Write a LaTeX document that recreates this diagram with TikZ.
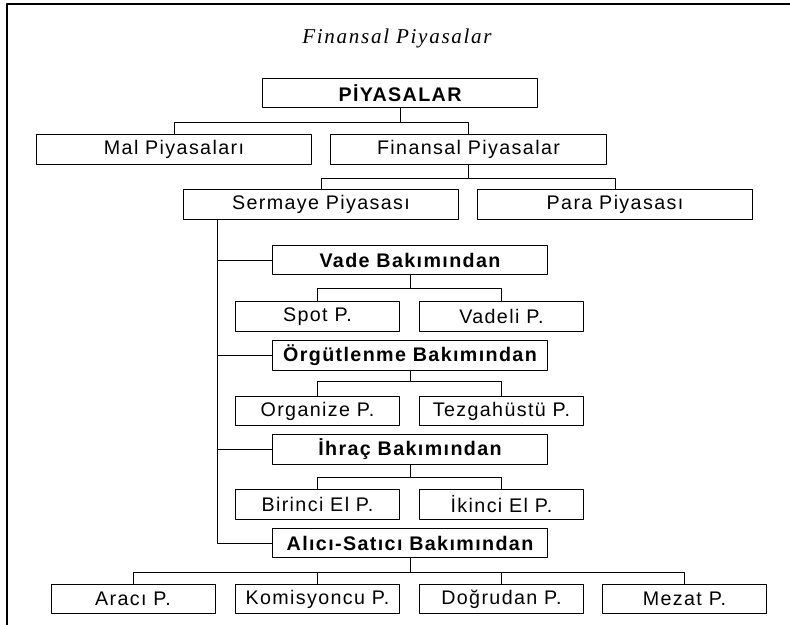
\documentclass[tikz,border=0pt]{standalone}
\usepackage{fontspec}
\setmainfont{Liberation Sans}
\newfontfamily\boxfont[LetterSpace=7]{Liberation Sans}
\newfontfamily\titlefont[LetterSpace=8]{Liberation Serif}
\usetikzlibrary{calc}

\tikzset{
  box/.style={draw, line width=0.6pt, rectangle, inner sep=0pt, minimum height=0.73cm, font=\boxfont\fontsize{14}{16}\selectfont},
  wide/.style={box, minimum width=6.88cm},
  narrow/.style={box, minimum width=4.1cm},
  head/.style={wide, font=\boxfont\fontsize{14}{16}\selectfont\bfseries},
  link/.style={line width=0.6pt}
}

\begin{document}
\begin{tikzpicture}[x=0.025cm,y=-0.025cm,line cap=round,line join=round]
        \useasboundingbox (0,0) rectangle (790,625);
        \draw[line width=1.5pt] (7,625) -- (7,4) -- (790,4);

        \node[font=\titlefont\itshape\fontsize{15}{17}\selectfont] (title) at (397,38) {Finansal Piyasalar};

        \node[head] (piy) at (400,93) {PİYASALAR};
        \node[wide] (mal) at (174,149.5) {Mal Piyasaları};
        \node[wide] (fin) at (468.5,149.5) {Finansal Piyasalar};
        \node[wide] (ser) at (321,204.5) {Sermaye Piyasası};
        \node[wide] (para) at (615,204.5) {Para Piyasası};

        \node[head] (vade) at (410,260) {Vade Bakımından};
        \node[narrow] (spot) at (317.5,316.5) {Spot P.};
        \node[narrow] (vadeli) at (501.5,316.5) {Vadeli P.};

        \node[head] (org) at (410,355.5) {Örgütlenme Bakımından};
        \node[narrow] (organize) at (317.5,411) {Organize P.};
        \node[narrow] (tezgah) at (501.5,411) {Tezgahüstü P.};

        \node[head] (ihrac) at (410,449.5) {İhraç Bakımından};
        \node[narrow] (birinci) at (317.5,504.5) {Birinci El P.};
        \node[narrow] (ikinci) at (501.5,504.5) {İkinci El P.};

        \node[head] (alici) at (410,543) {Alıcı-Satıcı Bakımından};
        \node[narrow] (araci) at (133,599) {Aracı P.};
        \node[narrow] (komis) at (317.5,599) {Komisyoncu P.};
        \node[narrow] (dog) at (501.5,599) {Doğrudan P.};
        \node[narrow] (mezat) at (684.5,599) {Mezat P.};

        % parent -> children
        \foreach \p/\c/\d in {piy/mal/14, piy/fin/14, fin/ser/14, fin/para/14,
                vade/spot/13, vade/vadeli/13, org/organize/11, org/tezgah/11,
                ihrac/birinci/13, ihrac/ikinci/13, alici/araci/14, alici/komis/14,
                alici/dog/14, alici/mezat/14}
            \draw[link] (\p.south) -- ++(0,\d) -| (\c.north);

        % trunk under Sermaye
        \coordinate (trunk) at ($(ser.south west)+(34,0)$);
        \foreach \h in {vade,org,ihrac,alici}
            \draw[link] (trunk) |- (\h.west);
        
        \end{tikzpicture}
\end{document}
